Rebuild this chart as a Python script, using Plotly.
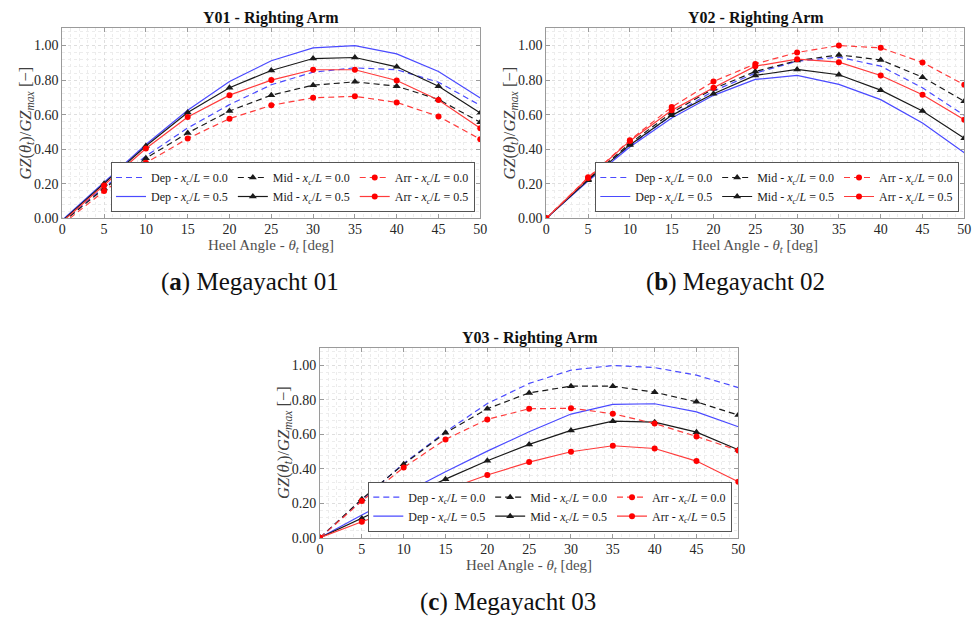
import plotly.graph_objects as go

# ---------------- data ----------------
heel_angles = [0, 5, 10, 15, 20, 25, 30, 35, 40, 45, 50]
x_ticks = [0, 5, 10, 15, 20, 25, 30, 35, 40, 45, 50]
y_ticks = [0.0, 0.2, 0.4, 0.6, 0.8, 1.0]

# Y01
y01_dep_00 = [-0.02, 0.18, 0.36, 0.523, 0.658, 0.773, 0.846, 0.871, 0.86, 0.788, 0.654]
y01_dep_05 = [-0.01, 0.206, 0.427, 0.625, 0.792, 0.912, 0.987, 1.00, 0.952, 0.85, 0.696]
y01_mid_00 = [-0.025, 0.173, 0.348, 0.494, 0.621, 0.713, 0.771, 0.79, 0.765, 0.688, 0.556]
y01_mid_05 = [-0.015, 0.20, 0.419, 0.612, 0.756, 0.856, 0.925, 0.931, 0.877, 0.765, 0.61]
y01_arr_00 = [-0.035, 0.158, 0.321, 0.462, 0.577, 0.654, 0.698, 0.706, 0.671, 0.59, 0.458]
y01_arr_05 = [-0.02, 0.19, 0.404, 0.587, 0.713, 0.80, 0.86, 0.86, 0.798, 0.685, 0.521]

# Y02
y02_dep_00 = [0, 0.225, 0.419, 0.596, 0.737, 0.84, 0.91, 0.933, 0.881, 0.756, 0.596]
y02_dep_05 = [0, 0.215, 0.413, 0.581, 0.712, 0.804, 0.827, 0.775, 0.687, 0.552, 0.379]
y02_mid_00 = [0, 0.227, 0.433, 0.612, 0.75, 0.85, 0.913, 0.946, 0.917, 0.817, 0.677]
y02_mid_05 = [0, 0.221, 0.425, 0.596, 0.721, 0.827, 0.862, 0.831, 0.742, 0.621, 0.463]
y02_arr_00 = [0, 0.237, 0.452, 0.644, 0.792, 0.894, 0.96, 1.0, 0.987, 0.902, 0.773]
y02_arr_05 = [0, 0.233, 0.448, 0.625, 0.756, 0.881, 0.921, 0.904, 0.827, 0.715, 0.571]

# Y03
y03_dep_00 = [0, 0.219, 0.431, 0.615, 0.779, 0.896, 0.973, 1.0, 0.988, 0.944, 0.872]
y03_dep_05 = [0, 0.132, 0.257, 0.383, 0.503, 0.615, 0.718, 0.774, 0.778, 0.731, 0.644]
y03_mid_00 = [0, 0.224, 0.427, 0.609, 0.749, 0.841, 0.88, 0.88, 0.845, 0.789, 0.712]
y03_mid_05 = [0, 0.112, 0.226, 0.34, 0.447, 0.542, 0.623, 0.677, 0.671, 0.613, 0.511]
y03_arr_00 = [0, 0.213, 0.408, 0.571, 0.687, 0.749, 0.752, 0.72, 0.663, 0.588, 0.507]
y03_arr_05 = [0, 0.093, 0.18, 0.277, 0.364, 0.439, 0.499, 0.534, 0.518, 0.445, 0.325]

panel_titles = ["Y01 - Righting Arm", "Y02 - Righting Arm", "Y03 - Righting Arm"]
captions = ["(<b>a</b>) Megayacht 01", "(<b>b</b>) Megayacht 02", "(<b>c</b>) Megayacht 03"]

panels = [
    [y01_dep_00, y01_dep_05, y01_mid_00, y01_mid_05, y01_arr_00, y01_arr_05],
    [y02_dep_00, y02_dep_05, y02_mid_00, y02_mid_05, y02_arr_00, y02_arr_05],
    [y03_dep_00, y03_dep_05, y03_mid_00, y03_mid_05, y03_arr_00, y03_arr_05],
]

# ---------------- styling ----------------
SERIF = "Liberation Serif"
BLUE = "#4a4aff"
BLACK = "#1a1a1a"
RED_LINE = "#ff3b3b"
RED_MK = "#ff0000"

series_style = [
    dict(label="Dep", xc="0.0", color=BLUE, dash="6px,4px", marker=None, grp="dep"),
    dict(label="Dep", xc="0.5", color=BLUE, dash="solid", marker=None, grp="dep"),
    dict(label="Mid", xc="0.0", color=BLACK, dash="6px,4px", marker=("triangle-up", BLACK, 7), grp="mid"),
    dict(label="Mid", xc="0.5", color=BLACK, dash="solid", marker=("triangle-up", BLACK, 7), grp="mid"),
    dict(label="Arr", xc="0.0", color=RED_LINE, dash="6px,4px", marker=("circle", RED_MK, 6), grp="arr"),
    dict(label="Arr", xc="0.5", color=RED_LINE, dash="solid", marker=("circle", RED_MK, 6), grp="arr"),
]

W, H = 978, 619
# pixel boxes of plot areas: (left, right, top, bottom)
boxes = [(62.3, 480.3, 28.3, 218.3), (546.3, 964.3, 28.3, 218.3), (320.0, 738.3, 348.3, 537.7)]
legend_pos = [(475, 212), (959.3, 212), (732.3, 531.7)]
title_pos = [(271, 17.5), (755.5, 17.5), (529.7, 337.7)]
caption_pos = [(250, 282), (735, 282), (508, 602)]

def px(x):
    return x / W

def py(y):
    return 1 - y / H

fig = go.Figure()
annotations = []
layout_axes = {}

for i, (data, box) in enumerate(zip(panels, boxes)):
    sfx = "" if i == 0 else str(i + 1)
    xa, ya = "x" + sfx, "y" + sfx
    leg = "legend" if i == 0 else "legend" + str(i + 1)
    for vals, st in zip(data, series_style):
        name = f"{st['label']} - <i>x</i><sub><i>c</i></sub>/<i>L</i> = {st['xc']}"
        tr = dict(
            x=heel_angles, y=vals, name=name, xaxis=xa, yaxis=ya, legend=leg,
            legendgroup=f"p{i}_{st['grp']}",
            line=dict(color=st["color"], width=1.2, dash=st["dash"]),
            hoverinfo="x+y+name",
        )
        if st["marker"] is None:
            tr["mode"] = "lines"
        else:
            sym, col, sz = st["marker"]
            tr["mode"] = "lines+markers"
            tr["marker"] = dict(symbol=sym, color=col, size=sz, line=dict(width=0))
        fig.add_trace(go.Scatter(**tr))

    l, r, t, b = box
    axis_common = dict(
        showline=True, linecolor="#9a9a9a", linewidth=1, mirror="allticks",
        ticks="inside", ticklen=4, tickcolor="#9a9a9a",
        showgrid=True, gridcolor="#dedede", griddash="dot", gridwidth=1,
        zeroline=False, automargin=False,
        tickfont=dict(family=SERIF, size=14, color="#262626"),
    )
    xaxis = dict(axis_common, domain=[px(l), px(r)], range=[0, 50], tickmode="array",
                 tickvals=x_ticks, anchor=ya, ticklabelstandoff=-2,
                 minor=dict(dtick=1, tick0=0, showgrid=True, gridcolor="#ececec", griddash="dot", ticks=""))
    yaxis = dict(axis_common, domain=[py(b), py(t)], range=[0, 1.1], tickmode="array",
                 tickvals=y_ticks, tickformat=".2f", anchor=xa,
                 minor=dict(dtick=0.04, tick0=0, showgrid=True, gridcolor="#ececec", griddash="dot", ticks=""))
    layout_axes["xaxis" + sfx] = xaxis
    layout_axes["yaxis" + sfx] = yaxis

    lx, ly = legend_pos[i]
    layout_axes[leg] = dict(
        x=px(lx), y=py(ly), xanchor="right", yanchor="bottom",
        orientation="h", traceorder="grouped", tracegroupgap=0,
        bgcolor="white", bordercolor="#555555", borderwidth=1,
        font=dict(family=SERIF, size=12, color="#1a1a1a"),
        itemwidth=30,
    )

    tx, ty = title_pos[i]
    annotations.append(dict(x=px(tx), y=py(ty), xref="paper", yref="paper", showarrow=False,
                            text=f"<b>{panel_titles[i]}</b>", xanchor="center", yanchor="middle",
                            font=dict(family=SERIF, size=16, color="#111111")))
    # x axis title
    annotations.append(dict(x=px((l + r) / 2), y=py(b + 28), xref="paper", yref="paper", showarrow=False,
                            text="Heel Angle - <i>θ</i><sub><i>t</i></sub> [deg]",
                            xanchor="center", yanchor="middle",
                            font=dict(family=SERIF, size=15, color="#505050")))
    # y axis title
    annotations.append(dict(x=px(l - 36), y=py((t + b) / 2), xref="paper", yref="paper", showarrow=False,
                            text="<i>GZ</i>(<i>θ</i><sub><i>t</i></sub>)/<i>GZ</i><sub><i>max</i></sub> [−]",
                            textangle=-90, xanchor="center", yanchor="middle",
                            font=dict(family=SERIF, size=16.5, color="#404040")))
    cx, cy = caption_pos[i]
    annotations.append(dict(x=px(cx), y=py(cy), xref="paper", yref="paper", showarrow=False,
                            text=captions[i], xanchor="center", yanchor="middle",
                            font=dict(family=SERIF, size=25, color="#111111")))

fig.update_layout(
    width=W, height=H,
    margin=dict(l=0, r=0, t=0, b=0, pad=0, autoexpand=False),
    paper_bgcolor="white", plot_bgcolor="white",
    annotations=annotations,
    showlegend=True,
    **layout_axes,
)

fig.write_html(
    "out.html",
    config={"displayModeBar": False},
    post_script="document.body.style.margin='0px';document.body.style.overflow='hidden';",
)
